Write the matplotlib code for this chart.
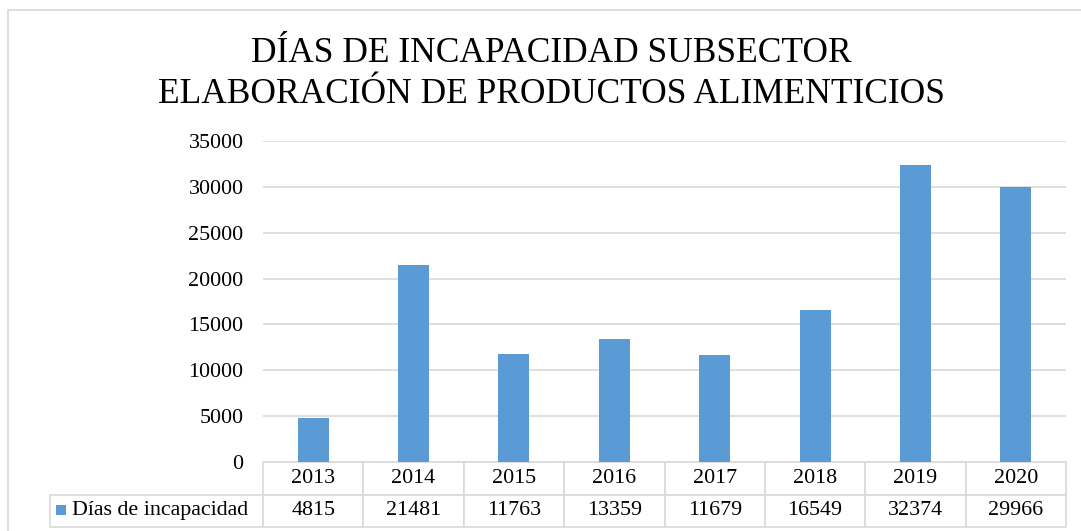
import matplotlib
matplotlib.use("Agg")
import matplotlib.pyplot as plt
from matplotlib.patches import Rectangle

# data
years = ["2013", "2014", "2015", "2016", "2017", "2018", "2019", "2020"]
dias = [4815, 21481, 11763, 13359, 11679, 16549, 32374, 29966]
series_name = "Días de incapacidad"
title_lines = ["DÍAS DE INCAPACIDAD SUBSECTOR", "ELABORACIÓN DE PRODUCTOS ALIMENTICIOS"]
yticks = [0, 5000, 10000, 15000, 20000, 25000, 30000, 35000]

bar_color = "#5B9BD5"
grid_color = "#D9D9D9"
W, H = 1081, 531
fs = 15.8

plt.rcParams["font.family"] = ["Liberation Serif", "DejaVu Serif"]

fig = plt.figure(figsize=(W / 100, H / 100), dpi=100)

# outer chart frame (runs off the right/bottom edge in the reference)
fig.patches.append(Rectangle((8 / W, -0.1), 1.2, 1 - 10 / H + 0.1, transform=fig.transFigure,
                             fill=False, edgecolor=grid_color, linewidth=1.2))

# plot area in pixels
x0, x1 = 263, 1066
y_top, y_zero = 141, 462
ax = fig.add_axes([x0 / W, (H - y_zero) / H, (x1 - x0) / W, (y_zero - y_top) / H])

xpos = range(len(years))
ax.bar(xpos, dias, width=0.31, color=bar_color, zorder=3)
ax.set_xlim(-0.5, len(years) - 0.5)
ax.set_ylim(0, 35000)
ax.set_yticks(yticks)
ax.set_yticklabels([str(v) for v in yticks], fontsize=fs)
ax.tick_params(axis="y", length=0, pad=14)
ax.set_xticks([])
ax.grid(axis="y", color=grid_color, linewidth=1.2, zorder=0)
for s in ax.spines.values():
    s.set_visible(False)

# data table under the axes
lab_left = 50
cell_text = [[""] + years, [series_name] + [str(v) for v in dias]]
col_w = [(x0 - lab_left) / (x1 - x0)] + [1 / len(years)] * len(years)
ph = y_zero - y_top
tbl_h = (527 - y_zero) / ph
tbl = ax.table(cellText=cell_text, colWidths=col_w, cellLoc="center",
               bbox=[-(x0 - lab_left) / (x1 - x0), -tbl_h,
                     (x1 - lab_left) / (x1 - x0), tbl_h])
tbl.auto_set_font_size(False)
for (r, c), cell in tbl.get_celld().items():
    cell.set_edgecolor(grid_color)
    cell.set_linewidth(1.2)
    cell.get_text().set_fontsize(fs)
    if r == 0 and c == 0:
        cell.set_edgecolor("none")
    if r == 1 and c == 0:
        cell.get_text().set_ha("left")
        cell.PAD = (72 - lab_left) / (x0 - lab_left)

# legend key inside the table row label
fig.patches.append(Rectangle((56 / W, (H - 515) / H), 10 / W, 10 / H,
                             transform=fig.transFigure, facecolor=bar_color, edgecolor="none"))

fig.text(551 / W, (H - 62) / H, title_lines[0], ha="center", va="baseline", fontsize=25.5)
fig.text(551 / W, (H - 103) / H, title_lines[1], ha="center", va="baseline", fontsize=25.5)

fig.savefig("out.png", dpi=100)
